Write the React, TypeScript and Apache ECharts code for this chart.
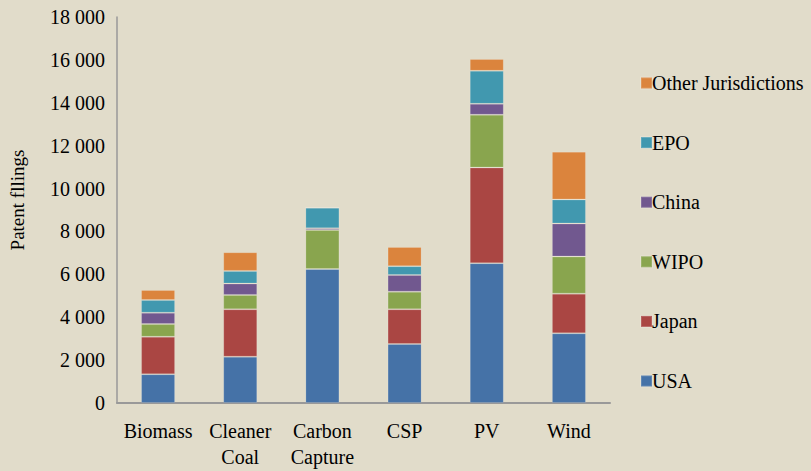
import React, { useEffect, useRef } from "react";
import * as echarts from "echarts";

const categories = ["Biomass", "Cleaner\nCoal", "Carbon\nCapture", "CSP", "PV", "Wind"];
const seriesNames = ["USA", "Japan", "WIPO", "China", "EPO", "Other Jurisdictions"];
const usa = [1340, 2160, 6250, 2750, 6520, 3250];
const japan = [1750, 2210, 0, 1620, 4460, 1850];
const wipo = [590, 670, 1820, 820, 2460, 1730];
const china = [530, 530, 80, 780, 510, 1540];
const epo = [590, 590, 960, 410, 1540, 1120];
const other = [470, 870, 0, 900, 550, 2230];
const yTicks = [0, 2000, 4000, 6000, 8000, 10000, 12000, 14000, 16000, 18000];

const colors = ["#4572A7", "#AA4643", "#89A54E", "#71588F", "#4198AF", "#DB843D"];
const FONT = "'Liberation Serif', 'Times New Roman', serif";

export default function App() {
  const ref = useRef<HTMLDivElement>(null);
  useEffect(() => {
    if (!ref.current) return;
    const chart = echarts.init(ref.current, undefined, { renderer: "svg" });
    const values = [usa, japan, wipo, china, epo, other];
    chart.setOption({
      animation: false,
      backgroundColor: "#E1DCCA",
      textStyle: { fontFamily: FONT, color: "#000" },
      grid: { left: 117, right: 201, top: 17, bottom: 68 },
      legend: {
        orient: "vertical",
        left: 635,
        top: 68,
        itemGap: 39.6,
        itemWidth: 11,
        itemHeight: 11,
        icon: "rect",
        data: [...seriesNames].reverse(),
        textStyle: { fontFamily: FONT, fontSize: 20, color: "#000", lineHeight: 20, padding: [0, 0, 0, -5] },
      },
      xAxis: {
        type: "category",
        data: categories,
        axisLine: { lineStyle: { color: "#999", width: 2 } },
        axisTick: { show: false },
        axisLabel: { fontFamily: FONT, fontSize: 20, color: "#000", margin: 15, lineHeight: 26, interval: 0 },
      },
      yAxis: {
        type: "value",
        min: 0,
        max: yTicks[yTicks.length - 1],
        interval: 2000,
        splitLine: { show: false },
        axisLine: { show: true, lineStyle: { color: "#999", width: 1.5 } },
        axisTick: { show: false },
        axisLabel: {
          fontFamily: FONT,
          fontSize: 20,
          color: "#000",
          margin: 12,
          formatter: (v: number) => String(v).replace(/\B(?=(\d{3})+(?!\d))/g, " "),
        },
      },
      graphic: [
        {
          type: "text",
          x: 17,
          y: 200,
          rotation: Math.PI / 2,
          style: {
            text: "Patent fllings",
            fontFamily: FONT,
            fontSize: 19,
            fill: "#000",
            align: "center",
            verticalAlign: "middle",
          },
        },
      ],
      series: seriesNames.map((name, i) => ({
        name,
        type: "bar",
        stack: "total",
        barWidth: 34,
        data: values[i],
        itemStyle: { color: colors[i], borderColor: "rgba(255,255,255,0.15)", borderWidth: 1 },
      })),
    });
    return () => chart.dispose();
  }, []);
  return (
    <div
      ref={ref}
      style={{ position: "absolute", left: 0, top: 0, width: 811, height: 471, background: "#E1DCCA" }}
    />
  );
}
